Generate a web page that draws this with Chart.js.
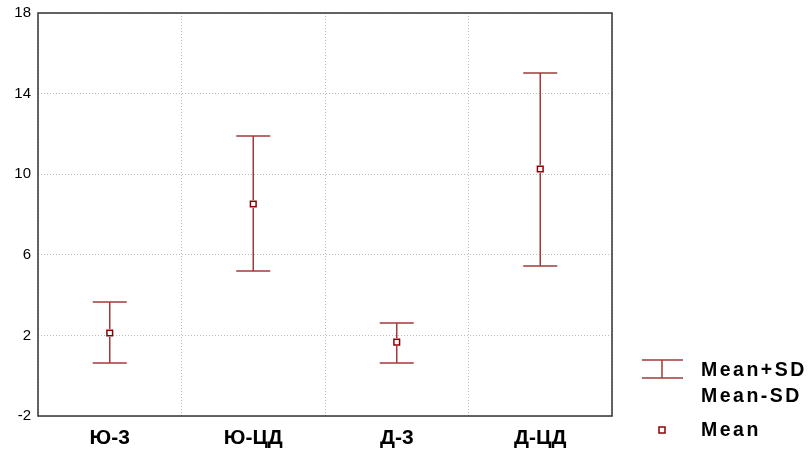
<!DOCTYPE html>
<html>
<head>
<meta charset="utf-8">
<script src="https://cdn.jsdelivr.net/npm/chart.js@4/dist/chart.umd.min.js"></script>
<style>
  html, body { margin: 0; padding: 0; background: #fff; }
  #wrap { width: 811px; height: 452px; }
</style>
</head>
<body>
<div id="wrap"><canvas id="chart"></canvas></div>
<script>
// data
const categories = ['Ю-3', 'Ю-ЦД', 'Д-3', 'Д-ЦД'];
const meanValues = [2.12, 8.52, 1.67, 10.26];
const upperValues = [3.66, 11.9, 2.62, 15.02]; // Mean+SD
const lowerValues = [0.63, 5.2, 0.63, 5.44];   // Mean-SD
const yTicks = [-2, 2, 6, 10, 14, 18];

const barColor = '#a33a3a';
const markColor = '#8b0000';
const fontFamily = '"Liberation Sans", Arial, sans-serif';

// error bars + frame + legend drawn with the chart's scales
const errorBarPlugin = {
    id: 'errorBars',
    afterDatasetsDraw(chart) {
        const ctx = chart.ctx;
        const x = chart.scales.x;
        const y = chart.scales.y;
        const area = chart.chartArea;

        ctx.save();
        ctx.strokeStyle = barColor;
        ctx.lineWidth = 1.5;
        categories.forEach((c, i) => {
            const px = x.getPixelForValue(i);
            const top = y.getPixelForValue(upperValues[i]);
            const bot = y.getPixelForValue(lowerValues[i]);
            const mid = y.getPixelForValue(meanValues[i]);
            ctx.beginPath();
            ctx.moveTo(px, top); ctx.lineTo(px, mid - 4);
            ctx.moveTo(px, mid + 4); ctx.lineTo(px, bot);
            ctx.moveTo(px - 17, top); ctx.lineTo(px + 17, top);
            ctx.moveTo(px - 17, bot); ctx.lineTo(px + 17, bot);
            ctx.stroke();
        });

        // plot frame
        ctx.strokeStyle = '#333';
        ctx.lineWidth = 1.5;
        ctx.strokeRect(area.left, area.top, area.right - area.left, area.bottom - area.top);

        // legend
        const lx = 662;
        ctx.strokeStyle = barColor;
        ctx.lineWidth = 1.5;
        ctx.beginPath();
        ctx.moveTo(lx - 20, 360); ctx.lineTo(lx + 21, 360);
        ctx.moveTo(lx - 20, 378); ctx.lineTo(lx + 21, 378);
        ctx.moveTo(lx, 360); ctx.lineTo(lx, 378);
        ctx.stroke();
        ctx.strokeStyle = markColor;
        ctx.fillStyle = '#fff';
        ctx.fillRect(lx - 3, 427, 6, 6);
        ctx.strokeRect(lx - 3, 427, 6, 6);

        ctx.fillStyle = '#000';
        ctx.font = 'bold 19.5px ' + fontFamily;
        ctx.letterSpacing = '2.5px';
        ctx.textAlign = 'left';
        ctx.textBaseline = 'middle';
        ctx.fillText('Mean+SD', 701, 371);
        ctx.fillText('Mean-SD', 701, 397);
        ctx.fillText('Mean', 701, 431);
        ctx.restore();
    }
};

new Chart(document.getElementById('chart'), {
    type: 'line',
    data: {
        labels: categories,
        datasets: [{
            label: 'Mean',
            data: meanValues,
            showLine: false,
            pointStyle: 'rect',
            pointRadius: 4,
            pointBorderWidth: 1.5,
            pointBorderColor: markColor,
            pointBackgroundColor: '#fff'
        }]
    },
    options: {
        responsive: true,
        maintainAspectRatio: false,
        animation: false,
        layout: { padding: { top: 13, right: 199, left: 0, bottom: 0 } },
        plugins: {
            legend: { display: false },
            tooltip: { enabled: false }
        },
        scales: {
            x: {
                offset: true,
                grid: {
                    offset: true,
                    color: '#bbb',
                    lineWidth: 1,
                    drawTicks: false
                },
                border: { display: false, dash: [1, 2] },
                ticks: {
                    color: '#000',
                    padding: 10,
                    font: { family: fontFamily, size: 21, weight: 'bold' }
                },
                afterFit: (s) => { s.height = 36; s.paddingLeft = 0; s.paddingRight = 0; }
            },
            y: {
                min: -2,
                max: 18,
                afterBuildTicks: (s) => { s.ticks = yTicks.map(v => ({ value: v })); },
                grid: {
                    color: '#bbb',
                    lineWidth: 1,
                    drawTicks: false
                },
                border: { display: false, dash: [1, 2] },
                ticks: {
                    color: '#000',
                    padding: 7,
                    font: { family: fontFamily, size: 15 }
                },
                afterFit: (s) => { s.width = 38; s.paddingTop = 0; s.paddingBottom = 0; }
            }
        }
    },
    plugins: [errorBarPlugin]
});
</script>
</body>
</html>
